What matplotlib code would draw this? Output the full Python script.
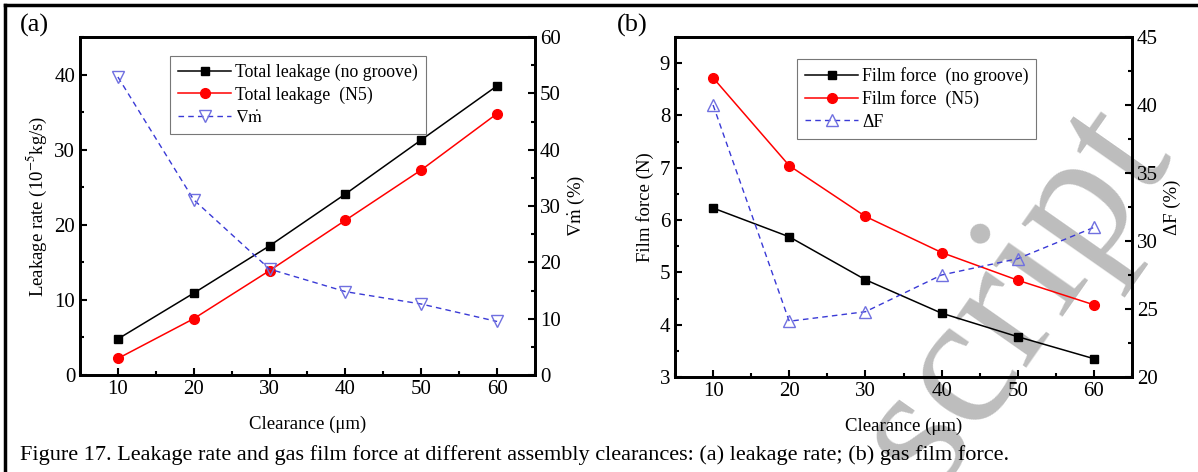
import matplotlib
matplotlib.use("Agg")
import matplotlib.pyplot as plt
from matplotlib.ticker import MultipleLocator

plt.rcParams['font.family'] = ['Liberation Serif', 'DejaVu Serif']
plt.rcParams['mathtext.fontset'] = 'stix'

clearance = [10, 20, 30, 40, 50, 60]
leak_no_groove = [4.8, 10.9, 17.2, 24.1, 31.3, 38.5]
leak_n5 = [2.2, 7.5, 13.9, 20.6, 27.3, 34.8]
leak_diff = [52.9, 31.1, 18.8, 14.8, 12.6, 9.5]

force_no_groove = [6.23, 5.68, 4.86, 4.22, 3.77, 3.35]
force_n5 = [8.72, 7.04, 6.07, 5.38, 4.85, 4.38]
force_diff = [40.0, 24.1, 24.8, 27.5, 28.7, 31.0]

W, H = 1198, 472
fig = plt.figure(figsize=(W / 100, H / 100), dpi=100)

def ax_rect(x0, y0, x1, y1):
    return [x0 / W, 1 - y1 / H, (x1 - x0) / W, (y1 - y0) / H]

BLUE = '#3a3ad6'
TFS = 15
LFS = 13.5
GFS = 12.8

def style(ax):
    for s in ax.spines.values():
        s.set_linewidth(2)
    ax.tick_params(direction='in', which='major', length=5, width=1.5, labelsize=TFS)
    ax.tick_params(direction='in', which='minor', length=3, width=1.5)

def panel(rect, y_ng, y_n5, y_d, ylim, ylim2, ymaj, ymin, ymaj2, ymin2,
          labels, ylabel, ylabel2, dmarker, legloc):
    ax = fig.add_axes(rect)
    ax.set_facecolor('none')
    ax2 = ax.twinx()
    l1, = ax.plot(clearance, y_ng, color='black', marker='s', ms=6, lw=1.1)
    l2, = ax.plot(clearance, y_n5, color='red', marker='o', ms=7, lw=1.1)
    l3, = ax2.plot(clearance, y_d, color=BLUE, ls=(0, (4, 3)), lw=1.0, marker=dmarker,
                   ms=8, mfc='none', mec='#7070e0', mew=1.0)
    ax.set_xlim(5, 65)
    ax.set_ylim(*ylim)
    ax2.set_ylim(*ylim2)
    ax.xaxis.set_major_locator(MultipleLocator(10))
    ax.xaxis.set_minor_locator(MultipleLocator(5))
    ax.yaxis.set_major_locator(MultipleLocator(ymaj))
    ax.yaxis.set_minor_locator(MultipleLocator(ymin))
    ax2.yaxis.set_major_locator(MultipleLocator(ymaj2))
    ax2.yaxis.set_minor_locator(MultipleLocator(ymin2))
    style(ax)
    style(ax2)
    ax.set_xlabel('Clearance (μm)', fontsize=LFS, labelpad=12)
    ax.set_ylabel(ylabel, fontsize=LFS, labelpad=4)
    ax2.set_ylabel(ylabel2, fontsize=LFS, labelpad=4)
    leg = ax.legend([l1, l2, l3], labels, loc='upper left', bbox_to_anchor=legloc,
                    fontsize=GFS, frameon=True, fancybox=False, edgecolor='#555555',
                    handlelength=3.0, borderpad=0.45, labelspacing=0.3, handletextpad=0.2,
                    borderaxespad=0)
    leg.get_frame().set_linewidth(0.8)
    return ax

panel(ax_rect(80, 37, 535, 375), leak_no_groove, leak_n5, leak_diff,
      (0, 45), (0, 60), 10, 5, 10, 5,
      ['Total leakage (no groove)', 'Total leakage  (N5)', r'$\nabla\dot{\mathrm{m}}$'],
      r'Leakage rate (10$^{-5}$kg/s)', r'$\nabla\dot{\mathrm{m}}$ (%)', 'v', (0.198, 0.945))

panel(ax_rect(675, 37, 1132, 377), force_no_groove, force_n5, force_diff,
      (3, 9.5), (20, 45), 1, 0.5, 5, 2.5,
      ['Film force  (no groove)', 'Film force  (N5)', 'ΔF'],
      'Film force (N)', 'ΔF (%)', '^', (0.267, 0.935))

fig.text(20 / W, 1 - 25 / H, '(a)', fontsize=19, va='center', ha='left')
fig.text(617 / W, 1 - 25 / H, '(b)', fontsize=19, va='center', ha='left')
fig.text(20 / W, 1 - 455 / H,
         'Figure 17. Leakage rate and gas film force at different assembly clearances: (a) leakage rate; (b) gas film force.',
         fontsize=16, va='center', ha='left', zorder=5)

# outer frame (top and left edges)
fig.add_artist(plt.Line2D([5 / W, 1], [1 - 5 / H, 1 - 5 / H], color='black', lw=2.5,
                          transform=fig.transFigure))
fig.add_artist(plt.Line2D([5 / W, 5 / W], [0, 1 - 5 / H], color='black', lw=2.5,
                          transform=fig.transFigure))

# watermark fragment (behind the plots)
fig.text(1015 / W, 1 - 295 / H, 'script', fontsize=135, color='#bdbdbd',
         rotation=55, ha='center', va='center', zorder=-1)

fig.savefig('out.png', dpi=100)
